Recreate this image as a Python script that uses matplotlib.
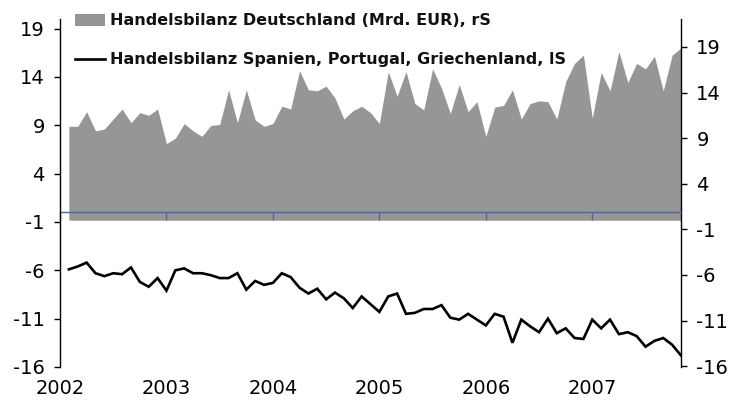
import matplotlib
matplotlib.use("Agg")
import matplotlib.pyplot as plt
import numpy as np

# Monthly data, Feb 2002 .. Nov 2007
months = np.arange(1, 71)            # months after Jan 2002
x_years = 2002 + months / 12.0

germany = [10.3, 10.3, 11.9, 9.8, 10.0, 11.1, 12.2, 10.7, 11.8, 11.5, 12.2, 8.4,
           9.0, 10.6, 9.8, 9.2, 10.4, 10.5, 14.3, 10.7, 14.3, 11.0, 10.3, 10.6,
           12.5, 12.2, 16.4, 14.3, 14.2, 14.7, 13.4, 11.1, 12.0, 12.5, 11.8, 10.6,
           16.3, 13.6, 16.3, 12.8, 12.1, 16.6, 14.5, 11.7, 14.9, 11.9, 13.0, 9.2,
           12.4, 12.6, 14.3, 11.1, 12.8, 13.1, 13.0, 11.1, 15.2, 17.2, 18.1, 11.2,
           16.2, 14.2, 18.5, 15.1, 17.2, 16.6, 18.0, 14.2, 18.1, 18.9]

south = [-5.9, -5.6, -5.2, -6.3, -6.6, -6.3, -6.4, -5.7, -7.2, -7.7, -6.8, -8.1,
         -6.0, -5.8, -6.3, -6.3, -6.5, -6.8, -6.8, -6.3, -8.0, -7.1, -7.5, -7.3,
         -6.3, -6.7, -7.8, -8.4, -7.9, -9.0, -8.3, -8.9, -9.9, -8.7, -9.5, -10.3,
         -8.7, -8.4, -10.5, -10.4, -10.0, -10.0, -9.6, -10.9, -11.1, -10.5, -11.1, -11.7,
         -10.5, -10.8, -13.5, -11.1, -11.8, -12.4, -11.0, -12.5, -12.0, -13.0, -13.1, -11.1,
         -12.0, -11.1, -12.6, -12.4, -12.8, -13.9, -13.3, -13.0, -13.7, -14.8]

year_ticks = [2002, 2003, 2004, 2005, 2006, 2007]
y_ticks = [-16, -11, -6, -1, 4, 9, 14, 19]

label_de = "Handelsbilanz Deutschland (Mrd. EUR), rS"
label_sp = "Handelsbilanz Spanien, Portugal, Griechenland, lS"

plt.rcParams['font.family'] = ['DejaVu Sans']
plt.rcParams['axes.unicode_minus'] = False

fig = plt.figure(figsize=(7.3, 4.09), dpi=100)
ax = fig.add_axes([60/730, 1-367/409, (681-60)/730, (367-19)/409])
ax2 = ax.twinx()

# area on right axis
area = ax2.fill_between(x_years, 0, germany, color='#969696', linewidth=0, label=label_de)
ax2.set_ylim(-16.1, 22.07)
ax2.set_yticks(y_ticks)

# line on left axis
line, = ax.plot(x_years, south, color='black', lw=1.9, label=label_sp, solid_joinstyle='miter')
ax.set_ylim(-16, 20)
ax.set_yticks(y_ticks)
ax.set_xlim(2002, x_years[-1])

ax.set_zorder(ax2.get_zorder() + 1)
ax.patch.set_visible(False)

for a in (ax, ax2):
    a.spines['top'].set_visible(False)
    a.spines['bottom'].set_visible(False)
ax.spines['right'].set_visible(False)
ax2.spines['left'].set_visible(False)
ax.spines['left'].set_linewidth(1.0)
ax2.spines['right'].set_linewidth(1.0)

ax.tick_params(axis='y', direction='out', length=4, width=1, labelsize=14, pad=7)
ax2.tick_params(axis='y', direction='out', length=4, width=1, labelsize=14, pad=7)

ax.set_xticks(year_ticks)
ax.set_xticklabels([str(y) for y in year_ticks])
ax.tick_params(axis='x', length=0, labelsize=14, pad=9)

# zero axis line with year ticks (blue)
zero_frac = (0 - ax.get_ylim()[0]) / (ax.get_ylim()[1] - ax.get_ylim()[0])
sec = ax.secondary_xaxis(zero_frac)
sec.set_xticks(year_ticks)
sec.set_xticklabels([''] * len(year_ticks))
sec.tick_params(axis='x', direction='out', length=6, width=1, color='#4A6A9C')
sec.spines['bottom'].set_color('#4A6A9C')
sec.spines['bottom'].set_linewidth(1.0)

leg = fig.legend(handles=[area, line], labels=[label_de, label_sp],
                 loc='upper left', bbox_to_anchor=(69/730, 1-7/409),
                 frameon=False, prop={'weight': 'bold', 'size': 11.5},
                 handlelength=1.85, handleheight=0.8, handletextpad=0.3,
                 labelspacing=1.5, borderaxespad=0)
for t in leg.get_texts():
    t.set_color('#111111')

fig.savefig('out.png', dpi=100)
